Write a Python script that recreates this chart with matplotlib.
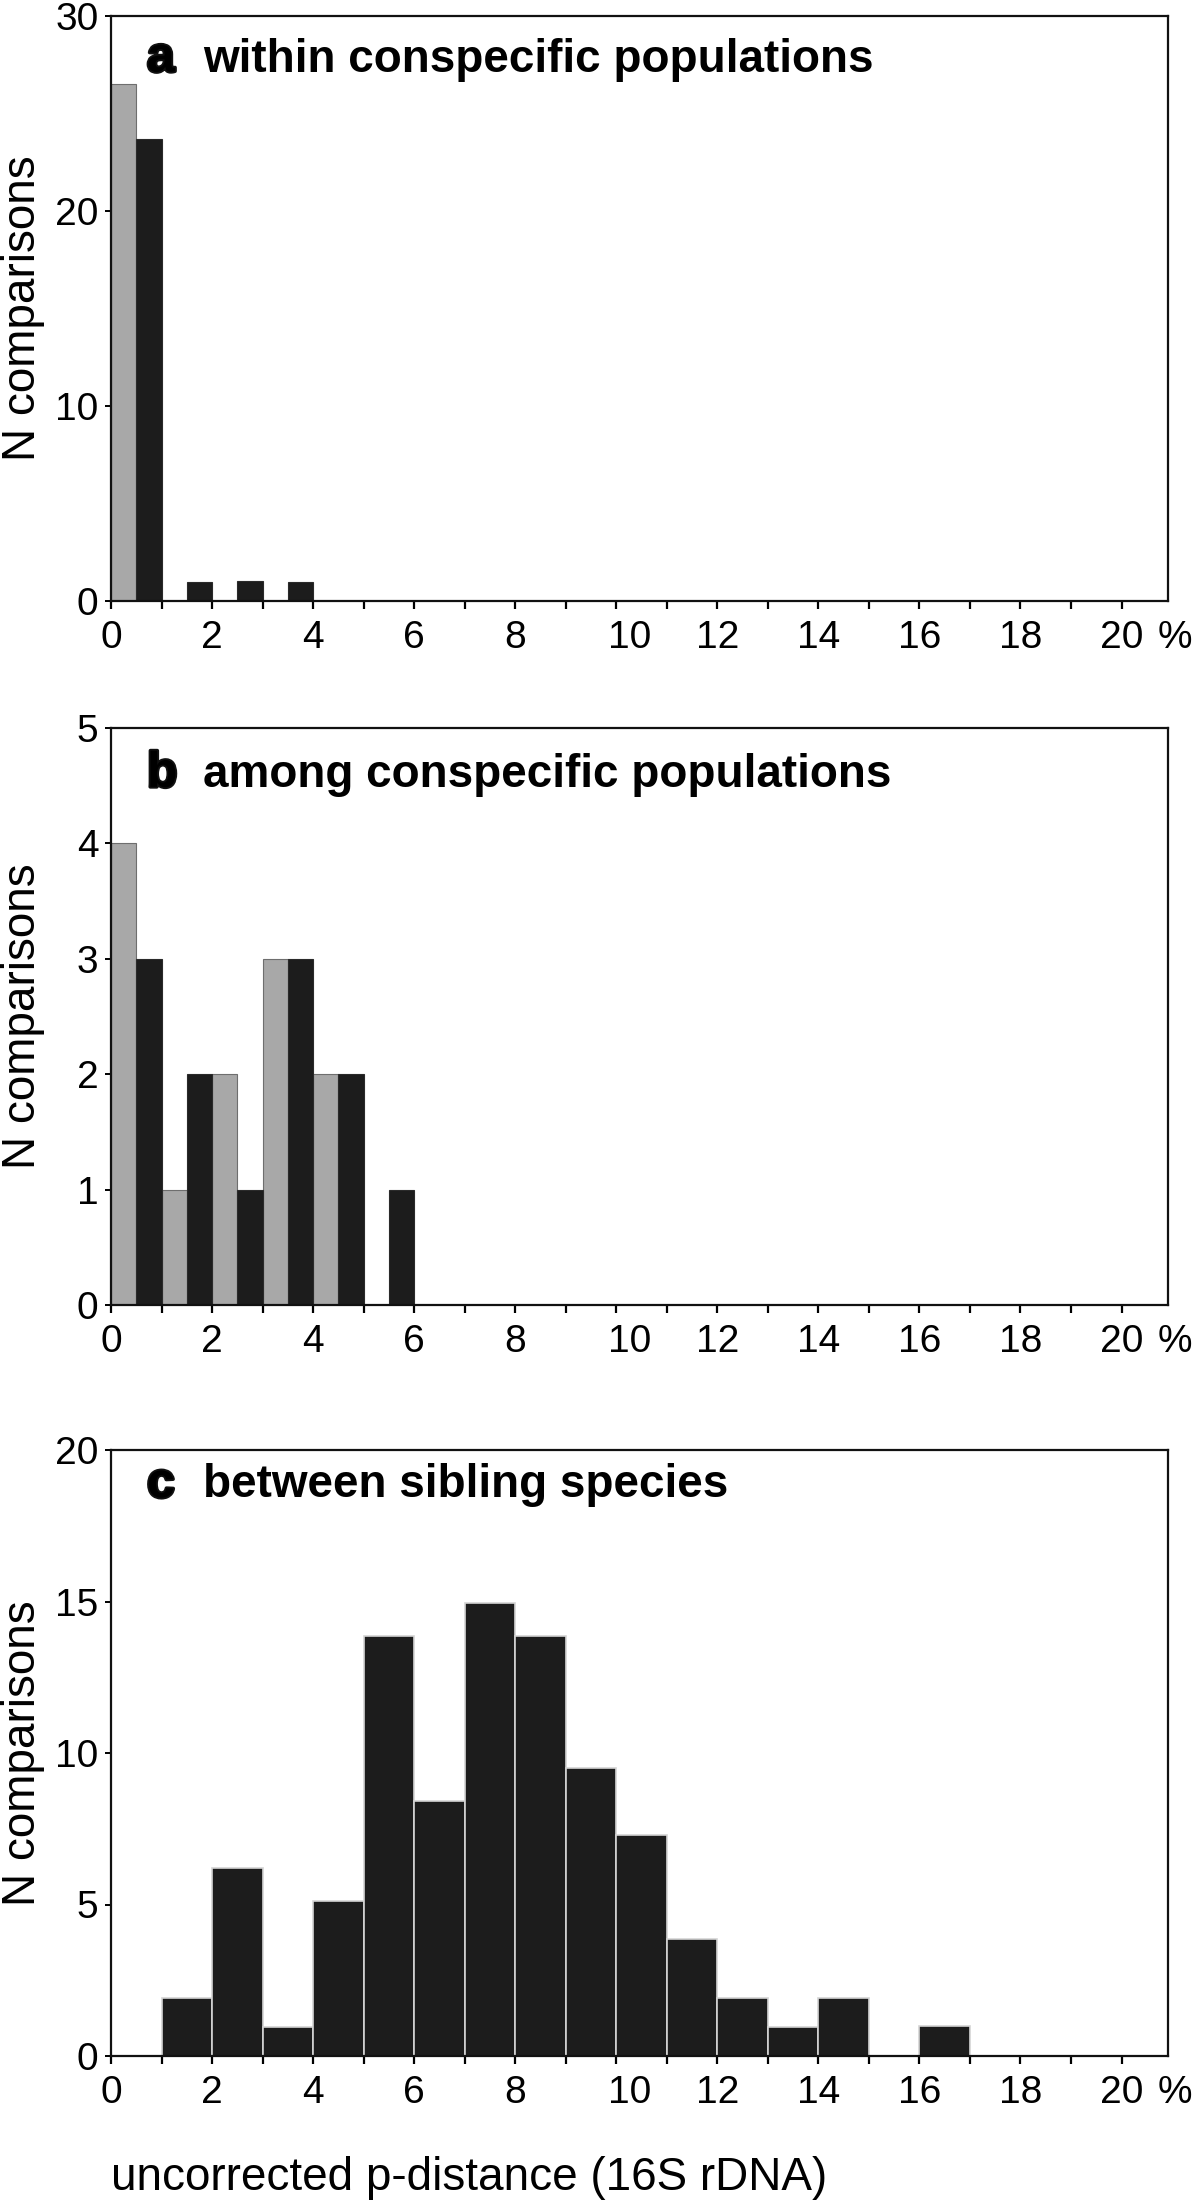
import matplotlib

matplotlib.use("Agg")
import matplotlib.pyplot as plt
import matplotlib.patheffects as pe
from matplotlib.transforms import ScaledTranslation


# 1 %-wide bins of uncorrected p-distance, left edges 0..19
BIN_LEFT = [0, 1, 2, 3, 4, 5, 6, 7, 8, 9, 10, 11, 12, 13, 14, 15, 16, 17, 18, 19]

# panel a: within conspecific populations (grey = left half-bin, black = right half-bin)
A_GREY = [26.5, 0, 0, 0, 0, 0, 0, 0, 0, 0, 0, 0, 0, 0, 0, 0, 0, 0, 0, 0]
A_BLACK = [23.7, 1, 1.05, 1, 0, 0, 0, 0, 0, 0, 0, 0, 0, 0, 0, 0, 0, 0, 0, 0]

# panel b: among conspecific populations
B_GREY = [4, 1, 2, 3, 2, 0, 0, 0, 0, 0, 0, 0, 0, 0, 0, 0, 0, 0, 0, 0]
B_BLACK = [3, 2, 1, 3, 2, 1, 0, 0, 0, 0, 0, 0, 0, 0, 0, 0, 0, 0, 0, 0]

# panel c: between sibling species
C_BLACK = [0, 1.9, 6.2, 0.95, 5.1, 13.85, 8.4, 14.95, 13.85, 9.5,
           7.3, 3.85, 1.9, 0.95, 1.9, 0, 1, 0, 0, 0]

X_TICKS = list(range(0, 21))
X_TICK_LABELS = [str(v) if v % 2 == 0 else "" for v in X_TICKS]

PANELS = [
    ("a", "within conspecific populations", [0, 10, 20, 30], A_GREY, A_BLACK),
    ("b", "among conspecific populations", [0, 1, 2, 3, 4, 5], B_GREY, B_BLACK),
    ("c", "between sibling species", [0, 5, 10, 15, 20], None, C_BLACK),
]

W, H = 1200, 2201
GREY = "#a8a8a8"
BLACK = "#1c1c1c"
TICK_FS = 28
LABEL_FS = 33

plt.rcParams["font.family"] = ["Liberation Sans", "DejaVu Sans"]
plt.rcParams["axes.linewidth"] = 1.6

fig = plt.figure(figsize=(W / 100, H / 100), dpi=100)
boxes = [(16, 601), (728, 1305), (1450, 2056)]
title_y = [0.905, 0.898, 0.922]
heavy = [pe.withStroke(linewidth=2.6, foreground="#111111")]

for (letter, title, yticks, grey, black), (top, bottom), ty in zip(PANELS, boxes, title_y):
    ax = fig.add_axes([111 / W, 1 - bottom / H, (1168 - 111) / W, (bottom - top) / H])

    if grey is not None:
        ax.bar([b + 0.25 for b in BIN_LEFT], grey, width=0.5, color=GREY,
               edgecolor="#6e6e6e", linewidth=0.8, zorder=2)
        ax.bar([b + 0.75 for b in BIN_LEFT], black, width=0.5, color=BLACK,
               edgecolor="#2a2a2a", linewidth=0.8, zorder=2)
    else:
        ax.bar([b + 0.5 for b in BIN_LEFT], black, width=1.0, color=BLACK,
               edgecolor="#d4d4d4", linewidth=1.2, zorder=2)

    ax.set_xlim(0, 20.92)
    ax.set_ylim(0, yticks[-1])
    ax.set_xticks(X_TICKS)
    ax.set_xticklabels(X_TICK_LABELS)
    ax.set_yticks(yticks)
    ax.tick_params(axis="x", direction="out", length=6, width=1.6, pad=8, labelsize=TICK_FS)
    ax.tick_params(axis="y", direction="out", length=4, width=1.4, pad=5, labelsize=TICK_FS)
    for spine in ax.spines.values():
        spine.set_color("#111111")

    # the "10" label sits a little right of its tick in the original
    lbl10 = ax.get_xticklabels()[10]
    lbl10.set_transform(lbl10.get_transform() + ScaledTranslation(0.13, 0, fig.dpi_scale_trans))

    ax.annotate("%", xy=(21.05, 0), xycoords=("data", "axes fraction"),
                xytext=(0, -14), textcoords="offset points", ha="center", va="top",
                fontsize=TICK_FS, annotation_clip=False)

    ax.set_ylabel("N comparisons", fontsize=LABEL_FS, va="baseline")
    ax.yaxis.set_label_coords(-0.072, 0.5)

    ax.text(0.034, ty, letter, transform=ax.transAxes, fontsize=LABEL_FS + 3,
            fontweight="bold", va="baseline", ha="left", path_effects=heavy)
    ax.text(0.087, ty, title, transform=ax.transAxes, fontsize=LABEL_FS,
            fontweight="bold", va="baseline", ha="left")

    if letter == "c":
        ax.set_xlabel("uncorrected p-distance (16S rDNA)", fontsize=LABEL_FS, loc="left")
        ax.xaxis.label.set_va("baseline")
        ax.xaxis.set_label_coords(0.0, -(2190 - bottom) / (bottom - top))

fig.savefig("out.png", dpi=100, facecolor="white")
